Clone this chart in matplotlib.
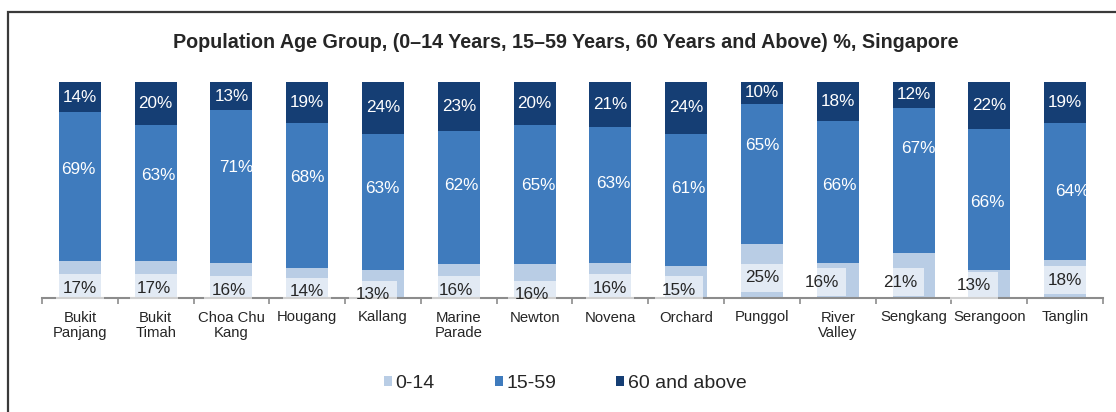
import matplotlib
matplotlib.use("Agg")
import matplotlib.pyplot as plt
from matplotlib.patches import Patch, Rectangle
import numpy as np

plt.rcParams['font.family'] = ['Liberation Sans', 'DejaVu Sans']

# ---- data ----
categories = ['Bukit\nPanjang', 'Bukit\nTimah', 'Choa Chu\nKang', 'Hougang', 'Kallang',
              'Marine\nParade', 'Newton', 'Novena', 'Orchard', 'Punggol', 'River\nValley',
              'Sengkang', 'Serangoon', 'Tanglin']
age_0_14 = [17, 17, 16, 14, 13, 16, 16, 16, 15, 25, 16, 21, 13, 18]
age_15_59 = [69, 63, 71, 68, 63, 62, 65, 63, 61, 65, 66, 67, 66, 64]
age_60_plus = [14, 20, 13, 19, 24, 23, 20, 21, 24, 10, 18, 12, 22, 19]
series_names = ['0-14', '15-59', '60 and above']

# ---- label placement (as in the original chart; fractions of bar height / px offsets) ----
mid_label_y = [0.593, 0.565, 0.602, 0.556, 0.505, 0.523, 0.523, 0.532, 0.505, 0.704, 0.519, 0.690, 0.440, 0.491]
mid_label_dx = [-2, 3, 5, 0, -1, 2, 4, 3, 2, 0, 2, 5, -2, 7]
bot_label_y = [0.046, 0.046, 0.037, 0.028, 0.014, 0.037, 0.014, 0.046, 0.037, 0.093, 0.074, 0.074, 0.056, 0.083]
bot_label_dx = [0, -2, -3, 0, -10, -3, -3, 0, -7, 0, -16, -13, -15, 0]

c_light = '#b9cde5'
c_mid = '#3f7bbd'
c_dark = '#153e74'
txt_dark = '#262626'

W, H = 1116, 412
fig = plt.figure(figsize=(W / 100, H / 100), dpi=100)

# outer frame (extends beyond right and bottom edges)
fig.patches.append(Rectangle((8 / W, -0.2), 1.2, 1.2 - 12 / H, transform=fig.transFigure,
                             fill=False, edgecolor='#3a3a3a', linewidth=1.6, zorder=0))

ax = fig.add_axes([42 / W, 1 - 298 / H, (1103 - 42) / W, (298 - 82) / H])

a = np.array(age_0_14, float)
b = np.array(age_15_59, float)
c = np.array(age_60_plus, float)
tot = a + b + c
fa, fb, fc = a / tot, b / tot, c / tot
x = np.arange(len(categories))
bw = 0.555
ax.bar(x, fa, bw, color=c_light, zorder=2, label=series_names[0])
ax.bar(x, fb, bw, bottom=fa, color=c_mid, zorder=2, label=series_names[1])
ax.bar(x, fc, bw, bottom=fa + fb, color=c_dark, zorder=2, label=series_names[2])

ax.set_xlim(-0.5, len(categories) - 0.5)
ax.set_ylim(0, 1)
ax.set_yticks([])
for s in ['top', 'right', 'left']:
    ax.spines[s].set_visible(False)
ax.spines['bottom'].set_color('#8c8c8c')
ax.spines['bottom'].set_linewidth(1.5)
ax.spines['bottom'].set_zorder(2.5)
ax.set_xticks(np.arange(len(categories) + 1) - 0.5, minor=False)
ax.set_xticklabels([])
ax.tick_params(axis='x', which='major', length=4, width=1.2, color='#8c8c8c', direction='out')
ax.set_xticks(x, minor=True)
ax.set_xticklabels(categories, minor=True, fontsize=10.7, color=txt_dark, linespacing=1.17)
ax.tick_params(axis='x', which='minor', length=0, pad=9)

px = 1 / 75.8  # one pixel in category units
for i in range(len(categories)):
    ax.text(x[i], fa[i] + fb[i] + fc[i] / 2, f"{age_60_plus[i]}%", ha='center', va='center',
            color='white', fontsize=12.3, zorder=4)
    ax.text(x[i] + mid_label_dx[i] * px, mid_label_y[i], f"{age_15_59[i]}%", ha='center', va='center',
            color='white', fontsize=12.3, zorder=4)
    ax.text(x[i] + bot_label_dx[i] * px, bot_label_y[i], f"{age_0_14[i]}%", ha='center', va='center',
            color=txt_dark, fontsize=12.3, zorder=4, clip_on=False,
            bbox=dict(boxstyle='square,pad=0.4', facecolor='white', alpha=0.6, edgecolor='none'))

fig.text(566 / W, 1 - 42 / H, 'Population Age Group, (0–14 Years, 15–59 Years, 60 Years and Above) %, Singapore',
         ha='center', va='center', fontsize=14.2, fontweight='bold', color=txt_dark)

handles = [Patch(facecolor=c_light), Patch(facecolor=c_mid), Patch(facecolor=c_dark)]
fig.legend(handles, series_names, loc='center', bbox_to_anchor=(565 / W, 1 - 383 / H), ncol=3,
           frameon=False, fontsize=14, handlelength=0.42, handleheight=0.42, handletextpad=0.17,
           columnspacing=3.1, labelcolor=txt_dark)

fig.savefig('out.png', dpi=100)
